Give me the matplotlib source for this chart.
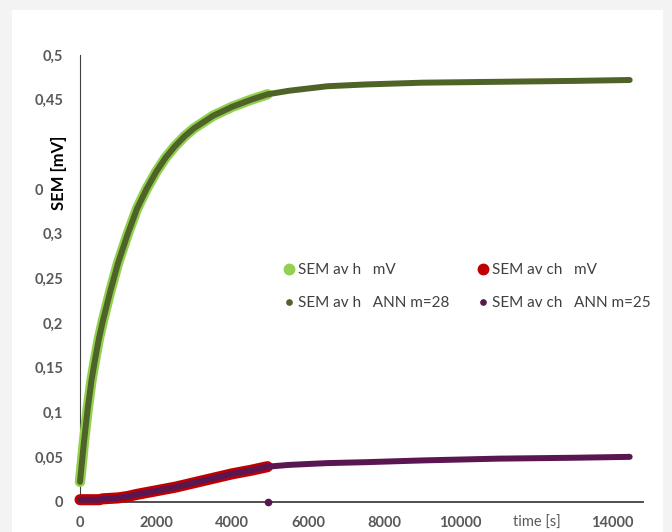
import matplotlib
matplotlib.use("Agg")
import matplotlib.pyplot as plt
from matplotlib.lines import Line2D
from matplotlib.patches import Rectangle

# measured SEM, heated sample (mV)
t_meas = [0, 100, 200, 300, 400, 500, 600, 800, 1000, 1250, 1500, 1750, 2000,
          2250, 2500, 2750, 3000, 3500, 4000, 4500, 4930]
sem_h = [0.022, 0.065, 0.103, 0.135, 0.160, 0.183, 0.202, 0.236, 0.267, 0.299,
         0.328, 0.350, 0.369, 0.385, 0.398, 0.409, 0.418, 0.432, 0.442, 0.450, 0.456]
sem_ch = [0.002, 0.002, 0.002, 0.002, 0.002, 0.002, 0.003, 0.0035, 0.004, 0.0056,
          0.008, 0.010, 0.012, 0.014, 0.016, 0.0185, 0.021, 0.026, 0.031, 0.035, 0.039]

# ANN predictions over the full run
t_ann = t_meas + [5500, 6500, 7500, 9000, 11000, 13000, 14450]
ann_h = sem_h + [0.460, 0.465, 0.467, 0.469, 0.470, 0.471, 0.472]
ann_ch = sem_ch + [0.041, 0.043, 0.044, 0.046, 0.048, 0.049, 0.050]
ann_ch_stray_t = [4930]
ann_ch_stray_v = [0.0]

labels = ["SEM av h   mV", "SEM av h   ANN m=28", "SEM av ch   mV", "SEM av ch   ANN m=25"]
y_ticks = [0, 0.05, 0.1, 0.15, 0.2, 0.25, 0.3, 0.35, 0.4, 0.45, 0.5]
y_ticklabels = ["0", "0,05", "0,1", "0,15", "0,2", "0,25", "0,3", "0,35", "0,4", "0,45", "0,5"]
x_ticks = [0, 2000, 4000, 6000, 8000, 10000, 12000, 14000]
x_ticklabels = ["0", "2000", "4000", "6000", "8000", "10000", "time [s]", "14000"]

c_h_meas = "#92d050"
c_h_ann = "#4f6228"
c_ch_meas = "#c00000"
c_ch_ann = "#5a1650"
grey_txt = "#595959"

plt.rcParams["font.family"] = ["Lato", "DejaVu Sans"]

W, H = 672, 532
fig = plt.figure(figsize=(W / 100, H / 100), dpi=100)
fig.patch.set_facecolor("#f3f3f3")
fig.patches.append(Rectangle((12 / W, 0), (663 - 12) / W, (H - 10) / H,
                             transform=fig.transFigure, facecolor="white",
                             edgecolor="none", zorder=-10))

ax = fig.add_axes([80 / W, (H - 501.5) / H, (643 - 80) / W, (501.5 - 55) / H])
ax.set_facecolor("none")
ax.set_xlim(0, 14800)
ax.set_ylim(0, 0.5)

common = dict(solid_capstyle="round", solid_joinstyle="round", clip_on=False)
ax.plot(t_meas, sem_h, color=c_h_meas, lw=7.5, zorder=3, **common)
ax.plot(t_ann, ann_h, color=c_h_ann, lw=4.3, zorder=4, **common)
ax.plot(t_meas, sem_ch, color=c_ch_meas, lw=8, zorder=5, **common)
ax.plot(t_ann, ann_ch, color=c_ch_ann, lw=4.3, zorder=6, **common)
ax.plot(ann_ch_stray_t, ann_ch_stray_v, "o", color=c_ch_ann, ms=4.5, zorder=6, clip_on=False)

for s in ["top", "right"]:
    ax.spines[s].set_visible(False)
ax.spines["left"].set_color("#404040")
ax.spines["left"].set_linewidth(0.8)
ax.spines["bottom"].set_color("#404040")
ax.spines["bottom"].set_linewidth(1.3)

ax.set_yticks(y_ticks)
ax.set_yticklabels(y_ticklabels)
ax.set_xticks(x_ticks)
ax.set_xticklabels(x_ticklabels)
ax.tick_params(axis="both", length=0, labelsize=10.5, labelcolor=grey_txt)
ax.tick_params(axis="y", pad=12)
ax.tick_params(axis="x", pad=10.5)
for lab in ax.get_xticklabels() + ax.get_yticklabels():
    lab.set_fontweight("bold")
ax.get_xticklabels()[6].set_fontweight("normal")

# axis title sits over the tick labels on a white box
fig.text(59 / W, (H - 173) / H, "SEM [mV]", rotation=90, ha="center", va="center",
         fontsize=12, fontweight="bold", color="black",
         bbox=dict(boxstyle="square,pad=0.45", facecolor="white", edgecolor="none"))

def handle(color, size):
    return Line2D([], [], ls="none", marker="o", color=color, ms=size)

leg_kw = dict(frameon=False, fontsize=11, handletextpad=0.1, labelspacing=1.25,
              borderpad=0, borderaxespad=0, handlelength=1.0, labelcolor="#404040",
              loc="upper left", bbox_transform=fig.transFigure)
leg1 = fig.legend([handle(c_h_meas, 7.5), handle(c_h_ann, 3.8)], labels[:2],
                  bbox_to_anchor=(281 / W, (H - 263) / H), **leg_kw)
leg2 = fig.legend([handle(c_ch_meas, 7.5), handle(c_ch_ann, 3.8)], labels[2:],
                  bbox_to_anchor=(475 / W, (H - 263) / H), **leg_kw)

fig.savefig("out.png", dpi=100, facecolor=fig.get_facecolor())
